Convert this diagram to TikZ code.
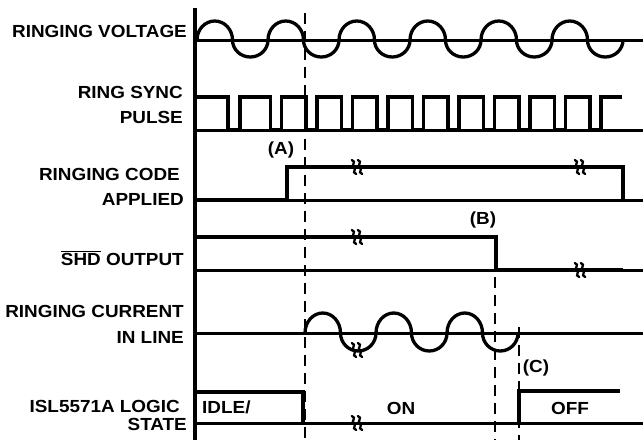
\documentclass[tikz,border=0pt]{standalone}
\usepackage{fontspec}
\setmainfont{Liberation Sans}[FakeStretch=1.08]
\newcommand\lblfont{\bfseries\fontsize{17.5}{19}\selectfont}
\begin{document}
\begin{tikzpicture}[x=1pt,y=-1pt,
  sig/.style={line width=3.3pt},
  base/.style={line width=3pt},
  axisline/.style={line width=3.8pt},
  guide/.style={line width=2.4pt, dash pattern=on 11pt off 7pt},
  lbl/.style={font=\lblfont, inner sep=0pt, anchor=base east},
  txt/.style={font=\lblfont, inner sep=0pt, anchor=base},
  brk/.pic={
    \foreach \d in {-3,3}{
      \draw[line width=2.3pt,line cap=round] (\d-2.2,-7) .. controls (\d+3.2,-5.5) and (\d-3.8,-1) .. (\d,0) .. controls (\d+3.8,1) and (\d-3.2,5.5) .. (\d+2.2,7);
    }}
]
\useasboundingbox (0,0) rectangle (643,440);
% axis
\draw[axisline] (195,8) -- (195,440);
% baselines
\foreach \y in {40,130,200,270,333,423}{
  \draw[base] (195,\y) -- (643,\y);
}
% guide lines
\draw[guide] (305,13) -- (305,440);
\draw[guide] (495,277) -- (495,440);
\draw[guide] (519,327) -- (519,440);
% ringing voltage
\draw[sig] (197,40) \foreach \i in {0,...,5}{
  arc[start angle=180,end angle=360,x radius=17.75,y radius=19]
  arc[start angle=180,end angle=0,x radius=17.75,y radius=17] };
% ring sync pulse
\draw[sig] (195,97) \foreach \a/\b in {228/240,270.5/281.5,306/317,341.5/352.5,377/388,412.5/423.5,448/459,483.5/494.5,519/530,554.5/565.5,590/601}{
  -- (\a,97) -- (\a,130) -- (\b,130) -- (\b,97) } -- (622,97);
% ringing code applied
\draw[sig] (195,200) -- (287,200) -- (287,167) -- (623,167) -- (623,200);
\pic at (357,167) {brk};
\pic at (580,167) {brk};
% SHD output
\draw[sig] (195,237) -- (496,237) -- (496,270) -- (623,270);
\pic at (357,237) {brk};
\pic at (580,270) {brk};
% ringing current
\draw[sig] (305,333) \foreach \i in {0,...,2}{
  arc[start angle=180,end angle=360,x radius=17.75,y radius=20]
  arc[start angle=180,end angle=0,x radius=17.75,y radius=18] };
\pic at (357,350) {brk};
% logic state
\draw[sig] (195,392) -- (303,392) -- (303,423);
\draw[sig] (519,423) -- (519,391) -- (620,391);
\pic at (357,423) {brk};
% labels
\node[lbl] (l1) at (187,37) {RINGING VOLTAGE};
\node[lbl] (l2a) at (183,98) {RING SYNC};
\node[lbl] (l2b) at (183,123) {PULSE};
\node[lbl] (l3a) at (180,180) {RINGING CODE};
\node[lbl] (l3b) at (184,205) {APPLIED};
\node[lbl] (l4) at (184,265) {$\overline{\mbox{SHD}}$ OUTPUT};
\node[lbl] (l5a) at (184,317) {RINGING CURRENT};
\node[lbl] (l5b) at (184,343) {IN LINE};
\node[lbl] (l6a) at (180,412) {ISL5571A LOGIC};
\node[lbl] (l6b) at (187,430) {STATE};
\node[txt] (ta) at (281,154) {(A)};
\node[txt] (tb) at (483,224) {(B)};
\node[txt] (tc) at (536,372) {(C)};
\node[txt,anchor=base west] (tidle) at (202,413) {IDLE/};
\node[txt] (ton) at (401,414) {ON};
\node[txt] (toff) at (570,414) {OFF};
\end{tikzpicture}
\end{document}
